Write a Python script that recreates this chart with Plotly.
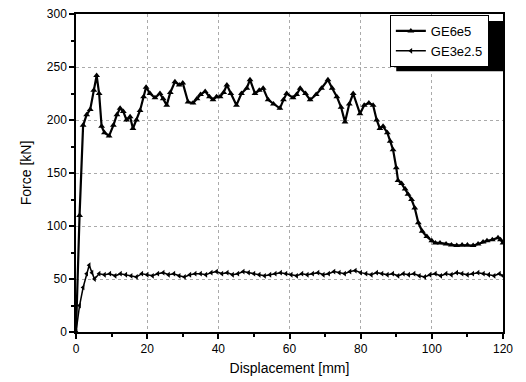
import plotly.graph_objects as go

# GE6e5 series
x_ge6 = [0, 1, 2, 3, 4, 5, 5.8, 6.5, 7.2, 8, 9.3, 10.5, 11.5, 12.4, 13.3, 14.2, 15.2, 16, 17, 18, 19, 19.7,
         20.8, 22.2, 23.6, 24.5, 25.5, 26.5, 27.8, 29, 30, 31.5, 32.9, 34, 35, 36.3, 37.5, 38.5, 39.5, 40.5,
         41.5, 42.4, 43.5, 45.1, 46.5, 48, 48.9, 50.3, 51.5, 52.6, 54, 55.5, 57.3, 58.3, 59.2, 61, 62, 63,
         64.5, 65.8, 67.5, 69, 70.8, 72, 73.3, 74.5, 75.6, 76.8, 77.9, 79.8, 81, 82.3, 83.5, 84.5, 85.4, 86.3,
         87.5, 88.3, 89.1, 90, 90.5, 91.5, 92.5, 93.3, 94.3, 95.2, 96.2, 97.3, 98.6, 100, 101, 102.3, 104,
         105.5, 107, 108.5, 110, 111.6, 113, 114.4, 115.5, 117, 118.6, 119.3, 120]
f_ge6 = [0, 110, 195, 205, 210, 228, 242, 225, 194, 188, 185, 195, 205, 211, 208, 200, 203, 192, 200, 209, 222, 231,
         225, 221, 225, 220, 214, 226, 236, 233, 235, 217, 216, 220, 224, 227, 222, 219, 222, 222,
         226, 233, 225, 214, 225, 230, 238, 225, 228, 230, 219, 215, 211, 219, 225, 221, 224, 230,
         225, 219, 224, 230, 238, 230, 222, 212, 198, 215, 225, 206, 214, 216, 214, 200, 192, 194,
         188, 180, 172, 155, 143, 140, 135, 130, 125, 117, 103, 95, 90, 86, 84, 84, 83,
         82, 81.5, 82, 82, 81.5, 83, 85, 86, 87, 89, 87, 84]

# GE3e2.5 series
x_ge3 = [0, 1, 2, 3, 3.7, 4.5, 5.2, 6.5,
         8, 9.5, 11, 12.5, 14, 15.5, 17, 18.5, 20, 21.5, 23, 24.5, 26, 27.5, 29, 30.5, 32, 33.5, 35, 36.5,
         38, 39.5, 41, 42.5, 44, 45.5, 47, 48.5, 50, 51.5, 53, 54.5, 56, 57.5, 59, 60.5, 62, 63.5, 65, 66.5,
         68, 69.5, 71, 72.5, 74, 75.5, 77, 78.5, 80, 81.5, 83, 84.5, 86, 87.5, 89, 90.5, 92, 93.5, 95, 96.5,
         98, 99.5, 101, 102.5, 104, 105.5, 107, 108.5, 110, 111.5, 113, 114.5, 116, 117.5, 119, 120]
f_ge3 = [0, 25, 42, 55, 63, 56, 50, 55,
         54, 55, 53, 55, 54, 53, 52, 55, 54, 53, 55, 56, 54, 55, 53, 52, 54, 55, 55, 54,
         56, 57, 55, 56, 54, 55, 57, 56, 55, 54, 53, 54, 55, 56, 55, 54, 53, 55, 54, 55,
         56, 54, 55, 57, 56, 55, 57, 58, 56, 55, 54, 56, 55, 54, 55, 53, 55, 54, 55, 53,
         52, 54, 55, 53, 55, 54, 56, 55, 54, 55, 56, 55, 54, 53, 55, 53]

x_ticks = [0, 20, 40, 60, 80, 100, 120]
y_ticks = [0, 50, 100, 150, 200, 250, 300]

fig = go.Figure()
fig.add_trace(go.Scatter(x=x_ge6, y=f_ge6, name="GE6e5", mode="lines+markers",
                         line=dict(color="black", width=2.2),
                         marker=dict(symbol="triangle-up", size=6, color="black")))
fig.add_trace(go.Scatter(x=x_ge3, y=f_ge3, name="GE3e2.5", mode="lines+markers",
                         line=dict(color="black", width=1.5),
                         marker=dict(symbol="triangle-left", size=5, color="black")))

axis_common = dict(showline=True, linecolor="black", linewidth=1.5, mirror=True,
                   ticks="outside", ticklen=5, tickwidth=1.5, tickcolor="black",
                   showgrid=True, gridcolor="#aaa", griddash="dot", gridwidth=1,
                   zeroline=False, tickfont=dict(size=12, color="black"))

fig.update_xaxes(range=[0, 120], tickvals=x_ticks,
                 title=dict(text="Displacement [mm]", font=dict(size=14, color="black"), standoff=8),
                 minor=dict(ticks="outside", ticklen=3, dtick=10, tickcolor="black", showgrid=False),
                 **axis_common)
fig.update_yaxes(range=[0, 300], tickvals=y_ticks,
                 title=dict(text="Force [kN]", font=dict(size=14, color="black"), standoff=12),
                 minor=dict(ticks="outside", ticklen=3, dtick=25, tickcolor="black", showgrid=False),
                 **axis_common)

# legend drop shadow
fig.add_shape(type="rect", xref="paper", yref="paper", x0=0.75, x1=1.0, y0=0.82, y1=0.978,
              fillcolor="black", line=dict(width=0), layer="above")

fig.update_layout(
    width=526, height=382,
    margin=dict(l=76, r=23, t=14, b=50, autoexpand=False),
    paper_bgcolor="white", plot_bgcolor="white",
    font=dict(family="Liberation Sans, Arial, sans-serif", color="black"),
    showlegend=True,
    legend=dict(x=0.735, y=0.997, xanchor="left", yanchor="top",
                bgcolor="white", bordercolor="black", borderwidth=1,
                font=dict(size=13), tracegroupgap=0, itemwidth=30),
)

fig.write_html("out.html", config={"displayModeBar": False},
               post_script="document.body.style.margin='0';document.body.style.padding='0';")
